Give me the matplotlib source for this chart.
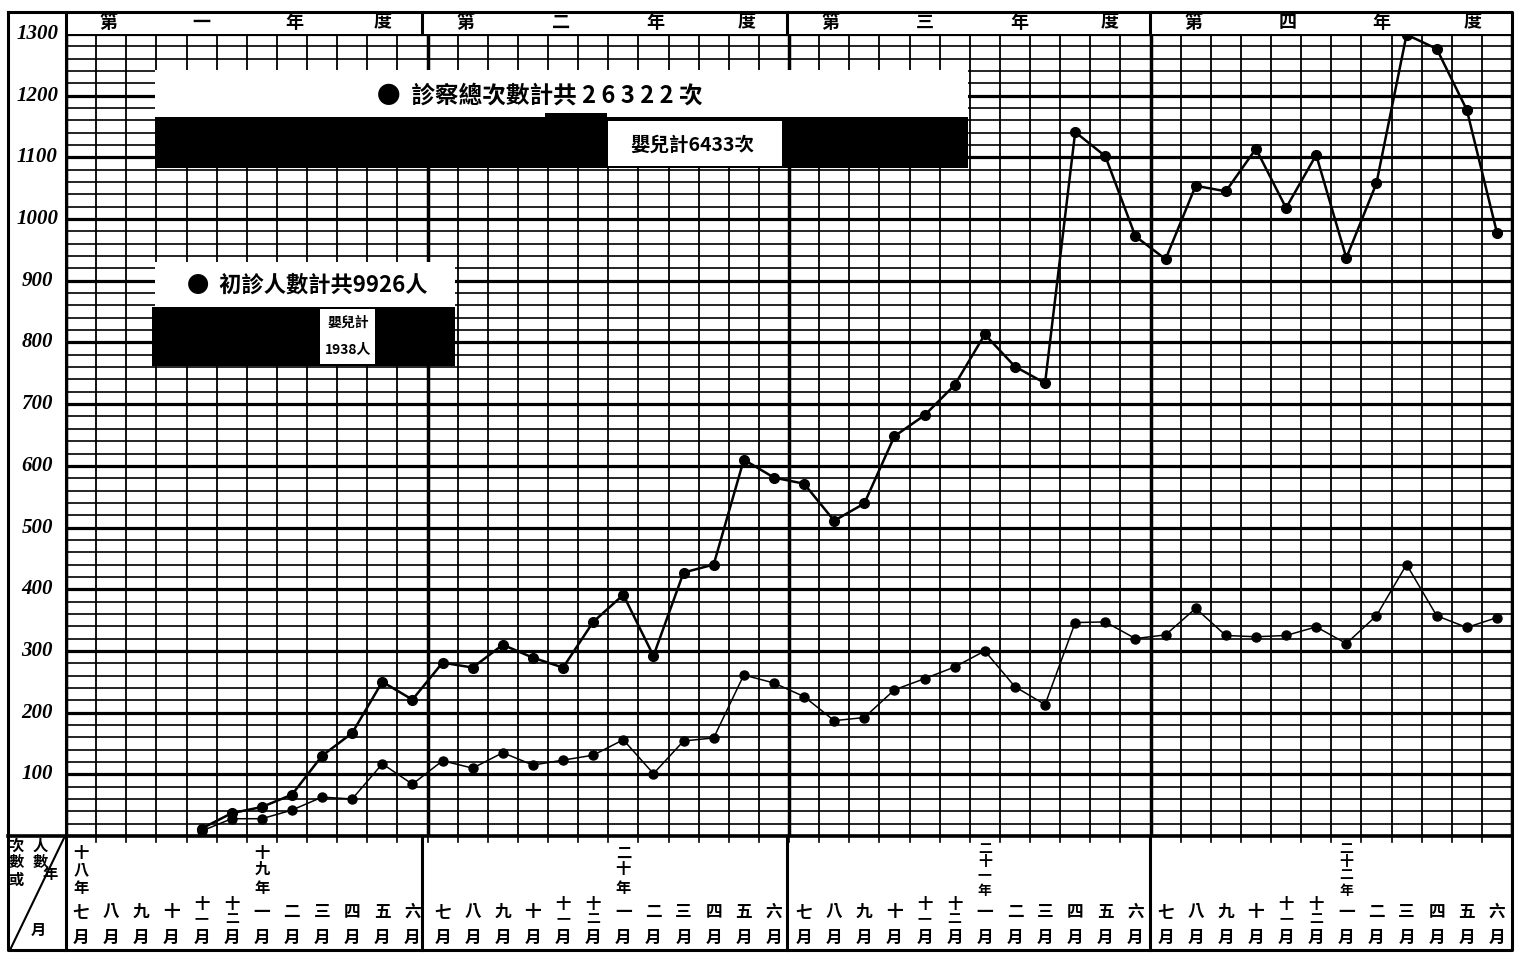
#Program to redraw the monthly clinic chart (visits and first visits).
import matplotlib
matplotlib.use('Agg')
import matplotlib.pyplot as plt
import matplotlib.transforms as mtransforms
from matplotlib.patches import Rectangle

plt.rcParams['font.family'] = ['Noto Sans CJK TC', 'DejaVu Sans']

#Month labels (July to June) and year labels along the bottom.
months = ['七', '八', '九', '十', '十一', '十二', '一', '二', '三', '四', '五', '六']
year_labels = ['十八年', '十九年', '二十年', '二十一年', '二十二年']
year_label_pos = [0, 6, 18, 30, 42]
fiscal_years = [['第', '一', '年', '度'], ['第', '二', '年', '度'],
                ['第', '三', '年', '度'], ['第', '四', '年', '度']]
y_ticks = list(range(100, 1301, 100))

#Series start in the fifth month (十一月 of 十八年).
start_month = 4
visits = [12, 37, 47, 67, 130, 167, 250, 221,
          281, 273, 310, 289, 273, 347, 391, 292, 427, 440, 610, 581,
          571, 511, 539, 648, 682, 731, 813, 761, 734, 1141, 1102, 972,
          935, 1054, 1045, 1114, 1018, 1104, 937, 1058, 1299, 1276, 1177, 978]
first_visits = [8, 28, 28, 42, 63, 60, 117, 84,
                122, 110, 135, 115, 123, 131, 156, 101, 154, 159, 261, 248,
                226, 187, 192, 237, 255, 274, 300, 242, 213, 346, 347, 320,
                326, 369, 325, 323, 325, 339, 312, 357, 440, 357, 338, 354]

W, H = 1526, 955


def main():
    fig = plt.figure(figsize=(W / 100, H / 100), dpi=100)

    #Data axes: plot area in pixels x 66..1512, y 34..836.
    ax = fig.add_axes([66 / W, 1 - 836 / H, (1512 - 66) / W, (836 - 34) / H])
    ax.set_xlim(0, 48)
    ax.set_ylim(0, 1300)
    ax.axis('off')

    #Graph paper grid.
    for v in range(0, 1301, 20):
        ax.axhline(v, color='black', lw=2.3 if v % 100 == 0 else 1.2, zorder=1)
    for k in range(49):
        ax.axvline(k, color='black', lw=2.5 if k % 12 == 0 else 1.3, zorder=1)

    #The two series.
    xs = [start_month + i + 0.5 for i in range(len(visits))]
    ax.plot(xs, visits, color='black', lw=1.8, marker='o', markersize=7, zorder=4)
    ax.plot(xs, first_visits, color='black', lw=1.1, marker='o', markersize=6.5, zorder=4)

    #Overlay axes in pixel units for the frame, labels and legend boxes.
    fr = fig.add_axes([0, 0, 1, 1])
    fr.set_xlim(0, W)
    fr.set_ylim(H, 0)
    fr.axis('off')
    fr.patch.set_visible(False)
    fr.set_zorder(3)

    #Outer frame and dividers.
    lk = dict(color='black', lw=2.2)
    fr.plot([8, 1512, 1512, 8, 8], [12, 12, 950, 950, 12], **lk)
    fr.plot([66, 66], [12, 950], **lk)
    fr.plot([8, 1512], [836, 836], color='black', lw=2.6)
    for xb in [422, 787, 1150]:
        fr.plot([xb, xb], [12, 34], **lk)
        fr.plot([xb, xb], [836, 950], **lk)
    for k in range(1, 48):
        xk = 66 + k * (1512 - 66) / 48
        fr.plot([xk, xk], [836, 842], color='black', lw=1.2)

    #Fiscal year header.
    starts = [66, 422, 787, 1150]
    ends = [422, 787, 1150, 1512]
    for s, e, chars in zip(starts, ends, fiscal_years):
        for f, ch in zip([0.12, 0.38, 0.64, 0.89], chars):
            fr.text(s + f * (e - s), 22, ch, ha='center', va='center',
                    fontsize=13, fontweight='bold')

    #Y tick labels.
    for v in y_ticks:
        ax.text(-0.96, v, str(v), ha='center', va='center', fontsize=15,
                family='Liberation Serif', style='italic', fontweight='bold',
                clip_on=False)

    #Bottom month labels.
    bt = mtransforms.blended_transform_factory(ax.transData, fr.transData)
    for i in range(48):
        m = months[i % 12]
        xc = i + 0.5
        if len(m) == 1:
            fr.text(xc, 912, m, transform=bt, ha='center', va='center',
                    fontsize=12, fontweight='bold')
        else:
            fr.text(xc, 904, m[0], transform=bt, ha='center', va='center',
                    fontsize=11, fontweight='bold')
            fr.text(xc, 919, m[1], transform=bt, ha='center', va='center',
                    fontsize=10, fontweight='bold')
        fr.text(xc, 938, '月', transform=bt, ha='center', va='center',
                fontsize=12, fontweight='bold')
    for label, pos in zip(year_labels, year_label_pos):
        ys = [853, 869, 888] if len(label) == 3 else [849, 862, 875, 891]
        fs = 11 if len(label) == 3 else 10
        for ch, yy in zip(label, ys):
            fr.text(pos + 0.5, yy, ch, transform=bt, ha='center', va='center',
                    fontsize=fs, fontweight='bold')

    #Corner box.
    fr.plot([10, 64], [950, 838], color='black', lw=1.5)
    for ch, xx, yy in [('次', 16, 846), ('數', 16, 862), ('或', 16, 880),
                       ('人', 40, 846), ('數', 40, 862),
                       ('年', 50, 874), ('月', 38, 930)]:
        fr.text(xx, yy, ch, ha='center', va='center', fontsize=11, fontweight='bold')

    #Legend boxes.
    fr.add_patch(Rectangle((155, 70), 813, 47, facecolor='white', edgecolor='none', zorder=5))
    fr.text(540, 96, '●  診察總次數計共 2 6 3 2 2 次', ha='center', va='center',
            fontsize=17, fontweight='bold', zorder=6)
    fr.add_patch(Rectangle((155, 117), 813, 51, facecolor='black', edgecolor='none', zorder=5))
    fr.add_patch(Rectangle((545, 113), 62, 6, facecolor='black', edgecolor='none', zorder=5))
    fr.add_patch(Rectangle((608, 121), 174, 45, facecolor='white', edgecolor='none', zorder=6))
    fr.text(692, 145, '嬰兒計6433次', ha='center', va='center', fontsize=14,
            fontweight='bold', zorder=7)

    fr.add_patch(Rectangle((155, 262), 300, 45, facecolor='white', edgecolor='none', zorder=5))
    fr.text(307, 285, '●  初診人數計共9926人', ha='center', va='center',
            fontsize=16, fontweight='bold', zorder=6)
    fr.add_patch(Rectangle((152, 307), 303, 59, facecolor='black', edgecolor='none', zorder=5))
    fr.add_patch(Rectangle((320, 309), 55, 55, facecolor='white', edgecolor='none', zorder=6))
    fr.text(348, 323, '嬰兒計', ha='center', va='center', fontsize=10,
            fontweight='bold', zorder=7)
    fr.text(348, 350, '1938人', ha='center', va='center', fontsize=10,
            fontweight='bold', zorder=7)

    fig.savefig('out.png', dpi=100)


if __name__ == '__main__':
    main()
